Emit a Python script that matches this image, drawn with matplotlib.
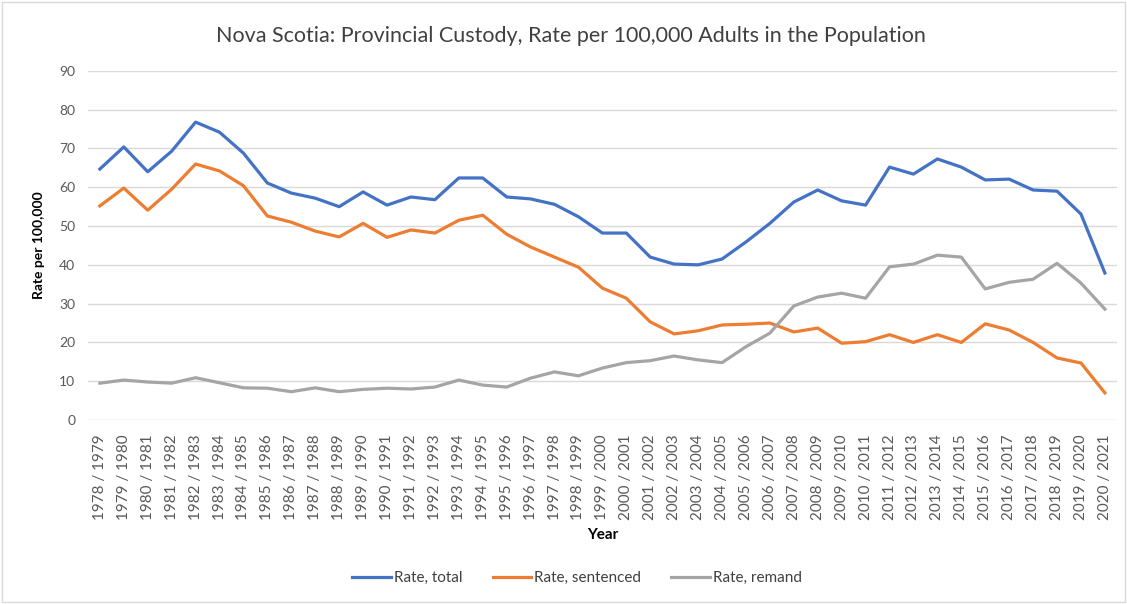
import matplotlib.pyplot as plt
from matplotlib.patches import Rectangle

plt.rcParams['font.family'] = ['Lato', 'DejaVu Sans']

start_years = list(range(1978, 2021))
years = [f"{y} / {y + 1}" for y in start_years]

rate_total = [64.7, 70.4, 64.0, 69.3, 76.8, 74.2, 68.8, 61.1, 58.5, 57.2, 55.0, 58.8, 55.4,
              57.5, 56.8, 62.4, 62.4, 57.5, 57.0, 55.6, 52.4, 48.2, 48.2, 42.0, 40.2, 40.0,
              41.5, 45.9, 50.7, 56.2, 59.3, 56.5, 55.4, 65.2, 63.4, 67.3, 65.2, 61.9, 62.1,
              59.3, 59.0, 53.1, 37.9]
rate_sentenced = [55.2, 59.8, 54.1, 59.5, 66.0, 64.2, 60.4, 52.6, 51.0, 48.7, 47.2, 50.7, 47.1,
                  49.0, 48.2, 51.5, 52.8, 47.9, 44.6, 42.0, 39.4, 34.0, 31.4, 25.3, 22.2, 23.0,
                  24.5, 24.7, 25.0, 22.7, 23.7, 19.8, 20.2, 22.0, 20.0, 22.0, 20.0, 24.8, 23.2,
                  20.0, 16.0, 14.7, 7.0]
rate_remand = [9.5, 10.3, 9.8, 9.5, 10.9, 9.6, 8.3, 8.2, 7.3, 8.3, 7.3, 7.9, 8.2,
               8.0, 8.5, 10.3, 9.0, 8.5, 10.8, 12.4, 11.4, 13.4, 14.8, 15.3, 16.5, 15.5,
               14.8, 18.9, 22.4, 29.4, 31.7, 32.7, 31.4, 39.5, 40.2, 42.5, 42.0, 33.8, 35.5,
               36.3, 40.4, 35.3, 28.6]

fig = plt.figure(figsize=(11.27, 6.04), dpi=100)
ax = fig.add_axes([0.078, 0.3046, 0.913, 0.578])

x = range(len(years))
ax.plot(x, rate_total, color='#4472C4', lw=2.3, label='Rate, total', solid_joinstyle='round')
ax.plot(x, rate_sentenced, color='#ED7D31', lw=2.3, label='Rate, sentenced', solid_joinstyle='round')
ax.plot(x, rate_remand, color='#A5A5A5', lw=2.3, label='Rate, remand', solid_joinstyle='round')

ax.set_xlim(-0.5, len(years) - 0.5)
ax.set_ylim(0, 90)
ax.set_yticks(range(0, 91, 10))
ax.set_xticks(list(x))
ax.set_xticklabels(years, rotation=90)
ax.tick_params(axis='both', length=0, colors='#595959', labelsize=10)
ax.tick_params(axis='x', labelsize=11, pad=10)
ax.tick_params(axis='y', pad=9)
ax.grid(axis='y', color='#d9d9d9', lw=1)
ax.set_axisbelow(True)
for s in ax.spines.values():
    s.set_visible(False)

ax.set_ylabel('Rate per 100,000', fontsize=10, fontweight='bold', color='#000000', labelpad=10)
ax.set_xlabel('Year', fontsize=11, fontweight='bold', color='#000000', labelpad=6)
fig.text(0.507, 0.94, 'Nova Scotia: Provincial Custody, Rate per 100,000 Adults in the Population',
         ha='center', va='center', fontsize=15.5, color='#404040')

fig.legend(loc='center', bbox_to_anchor=(0.512, 0.043), ncol=3, frameon=False,
           fontsize=11, handlelength=2.5, columnspacing=2.0, handletextpad=0.2,
           labelcolor='#404040')

fig.patches.append(Rectangle((0.002, 0.003), 0.996, 0.994, transform=fig.transFigure,
                             fill=False, edgecolor='#d9d9d9', lw=1))

fig.savefig('out.png', dpi=100)
